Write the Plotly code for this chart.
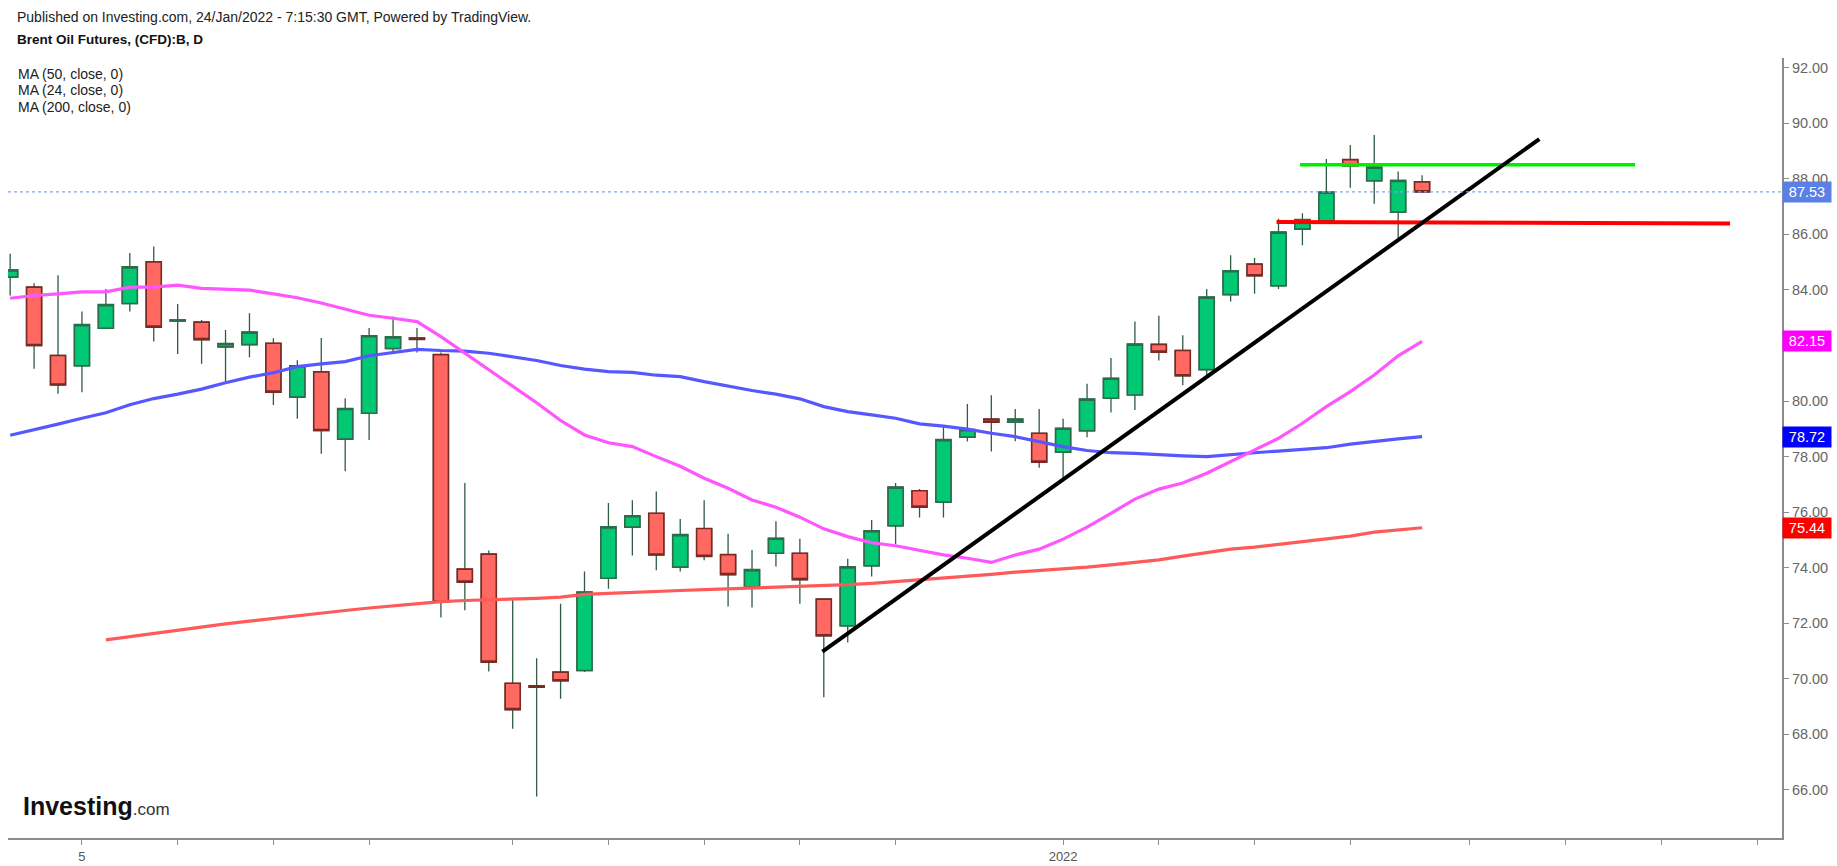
import plotly.graph_objects as go

# ---------------- data ----------------
dates = ["2021-11-02", "2021-11-03", "2021-11-04", "2021-11-05", "2021-11-08", "2021-11-09",
         "2021-11-10", "2021-11-11", "2021-11-12", "2021-11-15", "2021-11-16", "2021-11-17",
         "2021-11-18", "2021-11-19", "2021-11-22", "2021-11-23", "2021-11-24", "2021-11-25",
         "2021-11-26", "2021-11-29", "2021-11-30", "2021-12-01", "2021-12-02", "2021-12-03",
         "2021-12-06", "2021-12-07", "2021-12-08", "2021-12-09", "2021-12-10", "2021-12-13",
         "2021-12-14", "2021-12-15", "2021-12-16", "2021-12-17", "2021-12-20", "2021-12-21",
         "2021-12-22", "2021-12-23", "2021-12-24", "2021-12-27", "2021-12-28", "2021-12-29",
         "2021-12-30", "2021-12-31", "2022-01-03", "2022-01-04", "2022-01-05", "2022-01-06",
         "2022-01-07", "2022-01-10", "2022-01-11", "2022-01-12", "2022-01-13", "2022-01-14",
         "2022-01-17", "2022-01-18", "2022-01-19", "2022-01-20", "2022-01-21", "2022-01-24"]

open_ = [84.46, 84.10, 81.64, 81.27, 82.62, 83.51, 85.01, 82.88, 82.84, 81.95,
         82.03, 82.08, 80.14, 81.05, 78.63, 79.56, 81.89, 82.27, 81.67, 73.95,
         74.49, 69.84, 69.75, 70.24, 70.30, 73.62, 75.46, 75.96, 74.02, 75.41,
         74.47, 73.30, 74.52, 74.52, 72.87, 71.91, 74.07, 75.51, 76.77, 76.36,
         78.70, 79.35, 79.24, 78.84, 78.16, 78.93, 80.10, 80.22, 82.04, 81.82,
         81.13, 83.83, 84.93, 84.15, 86.19, 86.49, 88.69, 87.93, 86.80, 87.89]
high = [85.30, 84.24, 84.53, 83.22, 84.03, 85.33, 85.56, 83.49, 82.92, 82.56,
        83.16, 82.26, 81.47, 82.27, 80.10, 82.63, 83.04, 82.63, 81.75, 77.05,
        74.62, 72.90, 70.74, 72.70, 73.86, 76.33, 76.43, 76.74, 75.75, 76.43,
        75.22, 74.64, 75.67, 75.04, 72.90, 74.32, 75.72, 77.05, 76.83, 79.11,
        79.89, 80.21, 79.71, 79.71, 79.36, 80.62, 81.55, 82.86, 83.07, 82.37,
        84.03, 85.25, 85.15, 86.56, 86.76, 88.71, 89.22, 89.58, 88.26, 88.13]
low = [83.80, 81.16, 80.26, 80.32, 82.59, 83.22, 82.14, 81.69, 81.34, 80.70,
       81.58, 79.86, 79.36, 78.10, 77.47, 78.60, 81.78, 81.75, 72.21, 72.47,
       70.26, 68.20, 65.76, 69.28, 70.25, 73.24, 74.44, 73.91, 73.86, 74.27,
       72.60, 72.57, 74.04, 72.70, 69.34, 71.31, 73.68, 74.85, 75.81, 75.81,
       78.54, 78.18, 78.55, 77.60, 77.10, 78.70, 79.59, 79.68, 81.46, 80.57,
       80.92, 83.58, 83.86, 84.03, 85.61, 86.45, 87.68, 87.10, 85.80, 87.52]
close = [84.72, 82.00, 80.58, 82.75, 83.47, 84.83, 82.66, 82.92, 82.21, 82.07,
         82.48, 80.32, 81.27, 78.94, 79.73, 82.35, 82.31, 82.22, 72.76, 73.48,
         70.60, 68.89, 69.70, 69.93, 73.12, 75.47, 75.87, 74.46, 75.19, 74.41,
         73.75, 73.93, 75.06, 73.57, 71.55, 74.03, 75.33, 76.90, 76.18, 78.61,
         78.97, 79.24, 79.35, 77.80, 79.02, 80.07, 80.82, 82.05, 81.76, 80.91,
         83.74, 84.69, 84.51, 86.08, 86.53, 87.52, 88.47, 88.42, 87.94, 87.53]

ma50 = [78.77, 78.96, 79.17, 79.38, 79.58, 79.87, 80.09, 80.25, 80.43, 80.66,
        80.86, 81.02, 81.24, 81.34, 81.42, 81.63, 81.74, 81.86, 81.82, 81.80,
        81.72, 81.60, 81.46, 81.28, 81.15, 81.06, 81.03, 80.93, 80.88, 80.70,
        80.54, 80.38, 80.25, 80.08, 79.80, 79.62, 79.50, 79.38, 79.18, 79.10,
        78.99, 78.84, 78.72, 78.54, 78.36, 78.22, 78.14, 78.12, 78.07, 78.03,
        78.00, 78.08, 78.14, 78.20, 78.27, 78.32, 78.45, 78.55, 78.64, 78.72]
ma24 = [83.70, 83.80, 83.86, 83.93, 83.93, 84.10, 84.10, 84.17, 84.06, 84.03,
        83.99, 83.86, 83.72, 83.53, 83.32, 83.09, 82.98, 82.86, 82.32, 81.72,
        81.12, 80.55, 79.94, 79.30, 78.78, 78.50, 78.36, 78.00, 77.65, 77.22,
        76.86, 76.44, 76.18, 75.82, 75.40, 75.12, 74.90, 74.79, 74.62, 74.46,
        74.34, 74.19, 74.46, 74.67, 75.03, 75.46, 75.96, 76.47, 76.83, 77.05,
        77.40, 77.82, 78.24, 78.66, 79.20, 79.80, 80.34, 80.94, 81.63, 82.15]
ma200 = [None, None, None, None, 71.40, 71.52, 71.64, 71.76, 71.87, 71.98,
         72.08, 72.18, 72.28, 72.37, 72.46, 72.55, 72.63, 72.72, 72.78, 72.82,
         72.84, 72.88, 72.90, 72.94, 73.04, 73.08, 73.12, 73.15, 73.18, 73.21,
         73.24, 73.27, 73.29, 73.31, 73.35, 73.39, 73.44, 73.50, 73.56, 73.63,
         73.70, 73.76, 73.84, 73.90, 73.95, 74.02, 74.10, 74.18, 74.28, 74.42,
         74.55, 74.67, 74.74, 74.84, 74.94, 75.06, 75.14, 75.28, 75.36, 75.44]

# tick marks on the bar axis (bar index) and their labels
tick_pos = [3, 7, 11, 15, 21, 25, 29, 33, 37, 44, 48, 52, 56, 61, 65, 69, 73]
tick_text = ["5", "", "", "", "", "", "", "", "", "2022", "", "", "", "", "", "", ""]
price_ticks = [66, 68, 70, 72, 74, 76, 78, 80, 82, 84, 86, 88, 90, 92]

# user drawings (bar index, price)
trend_x = [33.94, 63.9]
trend_y = [70.98, 89.43]
resist_x = [53.9, 67.9]
resist_y = [88.51, 88.51]
support_x = [52.92, 71.87]
support_y = [86.45, 86.39]

legend_labels = ["MA (50, close, 0)", "MA (24, close, 0)", "MA (200, close, 0)"]

# ---------------- layout constants ----------------
W, H = 1837, 866
L, R, T, B = 8, 55, 58, 28
X_RANGE = [-0.09, 74.04]
Y_RANGE = [64.27, 92.35]

GREEN = "#00c873"
RED = "#ff6961"
GREEN_EDGE = "#2c6b4b"
RED_EDGE = "#7a2a25"
WICK = "#2f5c43"
C50 = "#5757ff"
C24 = "#ff55ff"
C200 = "#ff5a5a"
FONT = "Arial, Liberation Sans, sans-serif"


def px_x(px):
    return (px - L) / (W - L - R)


def px_y(py):
    return (H - B - py) / (H - T - B)


x = list(range(len(dates)))
body_hi = [max(o, c) for o, c in zip(open_, close)]
body_lo = [min(o, c) for o, c in zip(open_, close)]

fig = go.Figure()

# wicks (full range)
fig.add_trace(go.Candlestick(
    x=x, open=open_, high=high, low=low, close=close,
    increasing=dict(fillcolor=GREEN, line=dict(color=WICK, width=1.3)),
    decreasing=dict(fillcolor=RED, line=dict(color=WICK, width=1.3)),
    whiskerwidth=0, hoverinfo="skip", showlegend=False))
# bodies with coloured edges
fig.add_trace(go.Candlestick(
    x=x, open=open_, high=body_hi, low=body_lo, close=close,
    increasing=dict(fillcolor=GREEN, line=dict(color=GREEN_EDGE, width=1.6)),
    decreasing=dict(fillcolor=RED, line=dict(color=RED_EDGE, width=1.6)),
    whiskerwidth=0, showlegend=False, hovertext=dates))

fig.add_trace(go.Scatter(x=x, y=ma200, mode="lines", line=dict(color=C200, width=3.2),
                         showlegend=False, hoverinfo="skip"))
fig.add_trace(go.Scatter(x=x, y=ma50, mode="lines", line=dict(color=C50, width=3.2),
                         showlegend=False, hoverinfo="skip"))
fig.add_trace(go.Scatter(x=x, y=ma24, mode="lines", line=dict(color=C24, width=3.2),
                         showlegend=False, hoverinfo="skip"))

# drawings
fig.add_trace(go.Scatter(x=resist_x, y=resist_y, mode="lines",
                         line=dict(color="#00ee00", width=3.5), showlegend=False, hoverinfo="skip"))
fig.add_trace(go.Scatter(x=support_x, y=support_y, mode="lines",
                         line=dict(color="#ff0000", width=4), showlegend=False, hoverinfo="skip"))
fig.add_trace(go.Scatter(x=trend_x, y=trend_y, mode="lines",
                         line=dict(color="#000000", width=4), showlegend=False, hoverinfo="skip"))

# last price dotted line
fig.add_shape(type="line", xref="paper", x0=0, x1=1, yref="y", y0=close[-1], y1=close[-1],
              line=dict(color="#8aa4ee", width=1.2, dash="dot"))

annotations = []
# header
annotations.append(dict(text="Published on Investing.com, 24/Jan/2022 - 7:15:30 GMT, Powered by TradingView.",
                        xref="paper", yref="paper", x=px_x(15), y=px_y(17), xanchor="left",
                        yanchor="middle", showarrow=False, font=dict(size=14, color="#222222", family=FONT)))
annotations.append(dict(text="<b>Brent Oil Futures, (CFD):B, D</b>",
                        xref="paper", yref="paper", x=px_x(15), y=px_y(39), xanchor="left",
                        yanchor="middle", showarrow=False, font=dict(size=13.5, color="#111111", family=FONT)))
for i, lab in enumerate(legend_labels):
    annotations.append(dict(text=lab, xref="paper", yref="paper", x=px_x(16), y=px_y(74 + 16.5 * i),
                            xanchor="left", yanchor="middle", showarrow=False,
                            font=dict(size=14, color="#222222", family=FONT)))
# logo
annotations.append(dict(text="<b>Investing</b><span style='font-size:17px;color:#333333'>.com</span>",
                        xref="paper", yref="paper", x=px_x(21), y=px_y(806), xanchor="left",
                        yanchor="middle", showarrow=False,
                        font=dict(size=25, color="#111111", family=FONT)))
# price badges on the axis
badges = [(close[-1], "#5a80e6"), (ma24[-1], "#ff00ff"), (ma50[-1], "#0000ff"), (ma200[-1], "#ff0000")]
for val, col in badges:
    annotations.append(dict(text=f"{val:.2f}", xref="paper", yref="y", x=1, y=val,
                            xanchor="left", yanchor="middle", showarrow=False, bgcolor=col,
                            width=44, height=16, borderpad=2, align="center",
                            font=dict(size=14.5, color="#ffffff", family=FONT)))

fig.update_layout(
    width=W, height=H,
    margin=dict(l=L, r=R, t=T, b=B, pad=0, autoexpand=False),
    paper_bgcolor="#ffffff", plot_bgcolor="#ffffff",
    boxgap=0.37, boxgroupgap=0, boxmode="overlay",
    showlegend=False, hovermode="closest",
    font=dict(family=FONT, size=14, color="#555555"),
    annotations=annotations,
    xaxis=dict(range=X_RANGE, showgrid=False, zeroline=False, showline=True,
               linecolor="#8c8c8c", linewidth=2, ticks="outside", ticklen=5, tickwidth=1,
               tickcolor="#8c8c8c", tickmode="array", tickvals=tick_pos, ticktext=tick_text,
               tickfont=dict(size=13, color="#555555", family=FONT),
               rangeslider=dict(visible=False), automargin=False, fixedrange=True),
    yaxis=dict(range=Y_RANGE, side="right", showgrid=False, zeroline=False, showline=True,
               linecolor="#8c8c8c", linewidth=2, ticks="outside", ticklen=5, tickwidth=1,
               tickcolor="#8c8c8c", tickmode="array", tickvals=price_ticks,
               ticktext=[f"{v:.2f}" for v in price_ticks],
               tickfont=dict(size=14.5, color="#666666", family=FONT),
               automargin=False, fixedrange=True),
)

fig.write_html("out.html", config={"displayModeBar": False},
               post_script="document.body.style.margin='0px';document.body.style.overflow='hidden';")
